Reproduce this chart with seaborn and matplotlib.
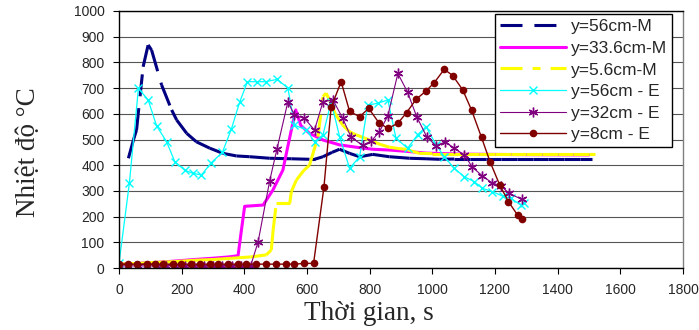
import pandas as pd
import matplotlib.pyplot as plt
from matplotlib.lines import Line2D
import seaborn as sns

## temperature vs time, model (M) and experiment (E)

# y=56cm-M
t_m56 = [30, 46, 56, 77, 93, 104, 136, 168, 184, 216, 247, 290, 332, 375, 417, 481, 550, 608,
         624, 651, 680, 704, 736, 768, 810, 863, 927, 980, 1022, 1070, 1120, 1170, 1220, 1270,
         1320, 1370, 1420, 1470, 1510]
T_m56 = [427, 498, 537, 783, 868, 848, 712, 615, 576, 524, 491, 466, 446, 436, 433, 427, 425, 423,
         423, 433, 450, 462, 446, 433, 442, 433, 427, 425, 423, 424, 424, 424, 424, 424,
         424, 424, 424, 424, 424]

# y=33.6cm-M
t_m34 = [0, 60, 120, 180, 240, 300, 350, 380, 391, 401, 460, 491, 523, 540, 550, 564,
         580, 608, 651, 704, 757, 810, 863, 927, 980, 1100, 1300, 1500]
T_m34 = [15, 18, 22, 27, 33, 38, 43, 48, 150, 240, 245, 303, 381, 480, 537, 615,
         555, 524, 498, 479, 470, 462, 459, 453, 447, 443, 441, 440]

# y=5.6cm-M
t_m6 = [0, 60, 120, 180, 240, 300, 360, 420, 470, 486, 492, 502, 545, 550, 566, 590, 608,
        635, 651, 661, 672, 690, 714, 736, 757, 785, 810, 836, 863, 890, 916, 959, 1000,
        1050, 1100, 1150, 1200, 1250, 1300, 1350, 1400, 1450, 1500, 1520]
T_m6 = [15, 18, 22, 25, 30, 33, 38, 43, 51, 70, 148, 252, 252, 297, 342, 380, 400,
        511, 667, 680, 654, 600, 556, 530, 518, 505, 492, 480, 470, 465, 462, 446, 445,
        445, 445, 445, 445, 445, 445, 445, 445, 445, 445, 445]

# y=56cm - E
t_e56 = [0, 33, 62, 93, 120, 152, 178, 210, 237, 263, 295, 330, 359, 385, 410, 439, 468, 505,
         539, 560, 598, 624, 651, 677, 704, 736, 768, 794, 826, 858, 884, 921, 953, 980,
         1012, 1038, 1070, 1102, 1134, 1160, 1192, 1224, 1251, 1282, 1293]
T_e56 = [18, 329, 699, 654, 553, 491, 414, 380, 368, 362, 410, 450, 542, 645, 725, 725, 725, 734,
         700, 556, 537, 491, 518, 647, 511, 388, 433, 634, 641, 654, 505, 466, 518, 550,
         479, 433, 388, 355, 336, 310, 297, 280, 271, 245, 252]

# y=32cm - E
t_e32 = [0, 30, 60, 90, 120, 150, 180, 210, 240, 270, 300, 330, 360, 390, 420, 444, 481, 504,
         539, 560, 592, 624, 651, 683, 714, 741, 778, 805, 831, 858, 890, 921, 950, 982,
         1012, 1041, 1070, 1102, 1128, 1160, 1190, 1219, 1245, 1285]
T_e32 = [8, 8, 8, 8, 8, 8, 8, 8, 8, 8, 8, 8, 8, 8, 8, 102, 340, 462,
         647, 595, 582, 537, 647, 654, 582, 508, 477, 494, 530, 592, 757, 684, 589, 511,
         475, 491, 466, 440, 392, 358, 332, 319, 291, 267]

# y=8cm - E
t_e8 = [0, 30, 56, 88, 115, 141, 173, 199, 231, 258, 290, 316, 348, 380, 406, 438, 470, 502,
        534, 560, 592, 621, 654, 677, 709, 736, 768, 797, 829, 858, 890, 918, 948, 980,
        1006, 1038, 1065, 1097, 1125, 1157, 1184, 1215, 1243, 1272, 1285]
T_e8 = [15, 15, 15, 15, 15, 15, 15, 15, 15, 15, 15, 15, 15, 15, 15, 15, 15, 15,
        15, 15, 18, 18, 314, 625, 725, 609, 589, 621, 566, 543, 563, 605, 656, 689,
        721, 773, 749, 693, 615, 508, 414, 323, 258, 206, 190]

labels = ["y=56cm-M", "y=33.6cm-M", "y=5.6cm-M", "y=56cm - E", "y=32cm - E", "y=8cm - E"]
x_ticks = list(range(0, 1801, 200))
y_ticks = list(range(0, 1001, 100))

navy, magenta, yellow = "#000080", "#ff00ff", "#ffff00"
cyan, purple, brown = "#00ffff", "#800080", "#800000"
dash_navy = (0, (7.2, 3.9))
dash_yellow = (0, (7.2, 3.3, 2.6, 3.3))


def as_segments(t, T):
    # one unit per segment so the dash pattern restarts at every point (like Excel)
    rows = []
    for i in range(len(t) - 1):
        rows.append((i, t[i], T[i]))
        rows.append((i, t[i + 1], T[i + 1]))
    return pd.DataFrame(rows, columns=["seg", "t", "T"])


sns.set_style("white")
plt.rcParams["font.family"] = ["Liberation Sans", "DejaVu Sans"]

fig = plt.figure(figsize=(6.99, 3.30), dpi=100)
ax = fig.add_axes([119 / 699, 1 - 268 / 330, 564 / 699, 257 / 330])

sns.lineplot(data=as_segments(t_m56, T_m56), x="t", y="T", units="seg", estimator=None,
             color=navy, lw=2.2, linestyle=dash_navy, ax=ax, legend=False)
sns.lineplot(x=t_m34, y=T_m34, estimator=None, sort=False, color=magenta, lw=2.2, ax=ax)
sns.lineplot(data=as_segments(t_m6, T_m6), x="t", y="T", units="seg", estimator=None,
             color=yellow, lw=2.2, linestyle=dash_yellow, ax=ax, legend=False)
sns.lineplot(x=t_e56, y=T_e56, estimator=None, sort=False, color=cyan, lw=0.9,
             marker="x", ms=6, mew=1.0, mec=cyan, ax=ax)
sns.lineplot(x=t_e32, y=T_e32, estimator=None, sort=False, color=purple, lw=0.8,
             marker=(6, 2, 0), ms=7, mew=1.0, mec=purple, ax=ax)
sns.lineplot(x=t_e8, y=T_e8, estimator=None, sort=False, color=brown, lw=1.0,
             marker="o", ms=5.5, mew=0, mfc=brown, mec=brown, ax=ax)

ax.set_xlim(0, 1800)
ax.set_ylim(0, 1000)
ax.set_xticks(x_ticks)
ax.set_yticks(y_ticks)
ax.yaxis.grid(True, color="#555555", lw=0.8)
ax.xaxis.grid(False)
ax.set_axisbelow(True)
ax.tick_params(axis="both", direction="out", length=4, width=0.8, color="black",
               labelsize=10, pad=6.5, left=True, bottom=True)
for side in ["left", "bottom", "top"]:
    ax.spines[side].set_color("black")
    ax.spines[side].set_linewidth(1.0)
ax.spines["right"].set_color("#808080")
ax.spines["right"].set_linewidth(1.0)

ax.set_xlabel("Thời gian, s", family=["Liberation Serif", "DejaVu Serif"], fontsize=19.5)
ax.set_ylabel("Nhiệt độ °C", family=["Liberation Serif", "DejaVu Serif"], fontsize=19.5)
ax.xaxis.set_label_coords(0.443, -52 / 257)
ax.xaxis.label.set_va("baseline")
ax.yaxis.set_label_coords(-84 / 564, 0.4525)
ax.yaxis.label.set_va("baseline")

handles = [
    Line2D([], [], color=navy, lw=2.2, linestyle=dash_navy),
    Line2D([], [], color=magenta, lw=2.2),
    Line2D([], [], color=yellow, lw=2.2, linestyle=dash_yellow),
    Line2D([], [], color=cyan, lw=0.9, marker="x", ms=6, mew=1.0),
    Line2D([], [], color=purple, lw=0.8, marker=(6, 2, 0), ms=7, mew=1.0),
    Line2D([], [], color=brown, lw=1.0, marker="o", ms=5.5, mew=0),
]
leg = ax.legend(handles, labels, loc="upper right", bbox_to_anchor=(672 / 699, 1 - 14 / 330),
                bbox_transform=fig.transFigure, borderaxespad=0, fontsize=12.5,
                handlelength=3.8, handletextpad=0.28, labelspacing=0.37, borderpad=0.3,
                fancybox=False, framealpha=1, edgecolor="black")
leg.get_frame().set_linewidth(1.0)

fig.savefig("out.png", dpi=100)
